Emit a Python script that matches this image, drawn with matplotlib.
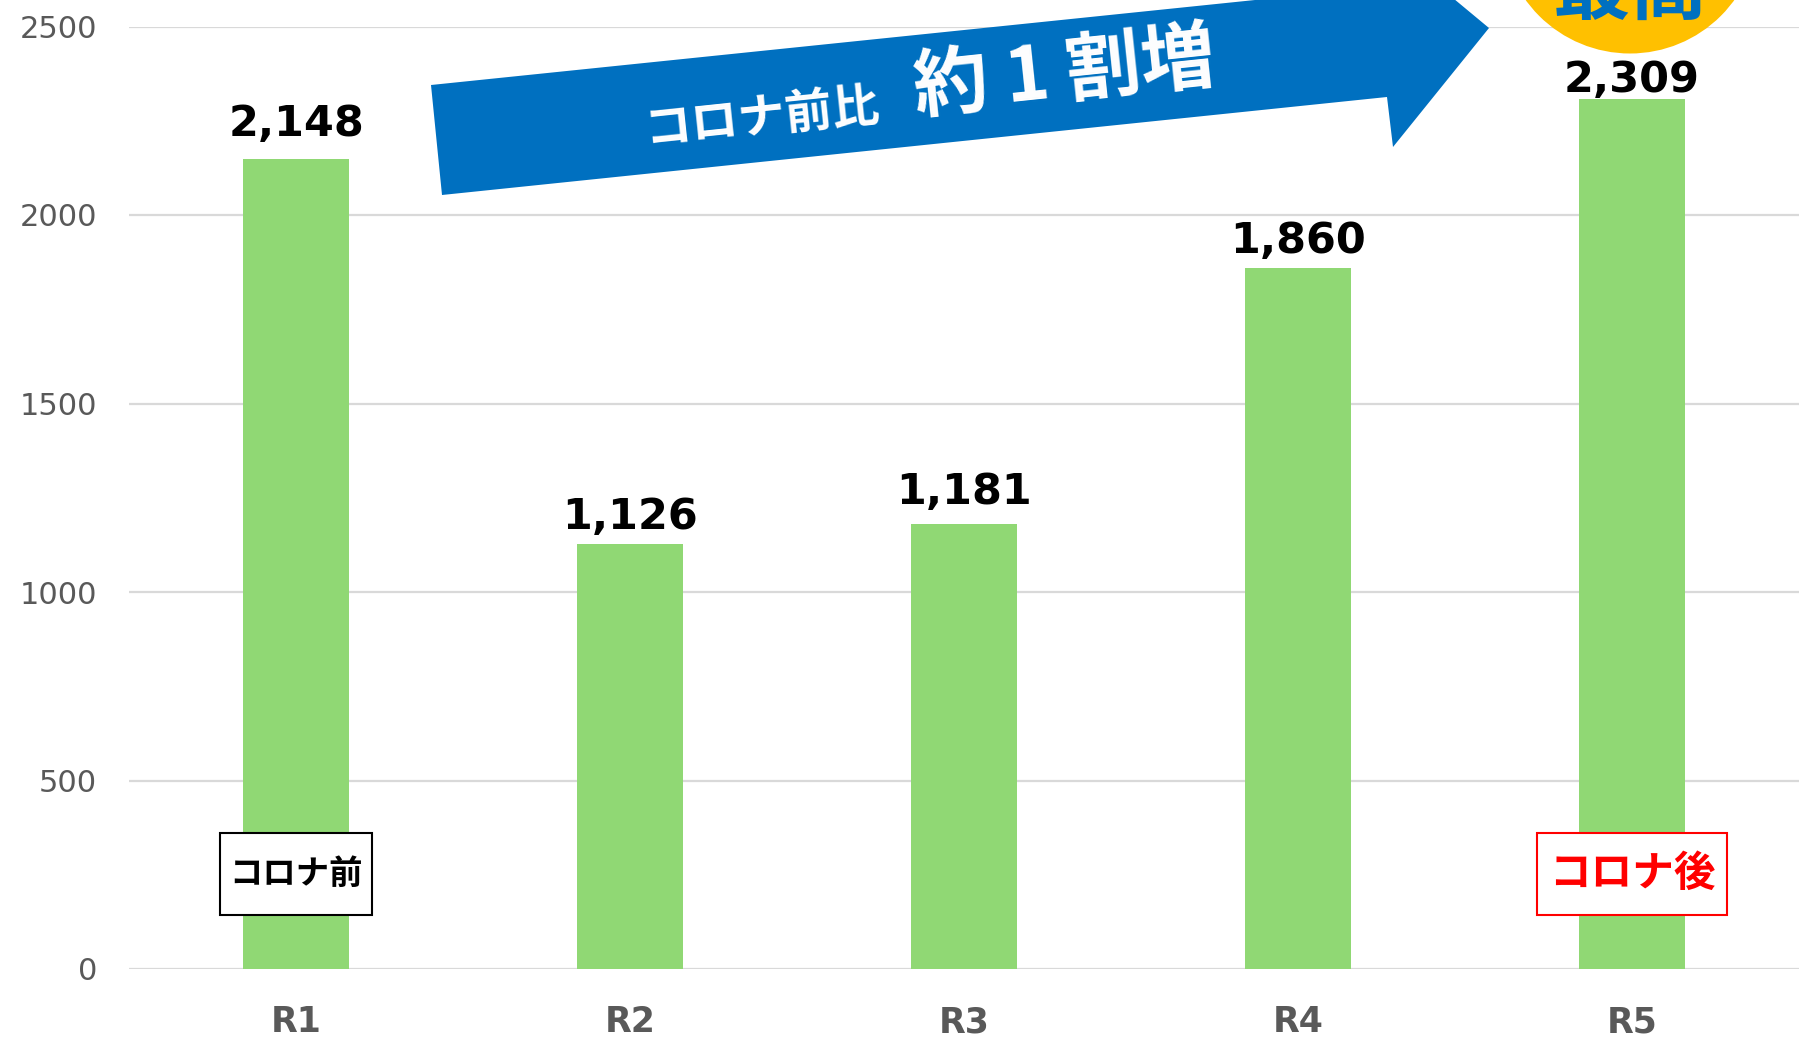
import numpy as np
import matplotlib
matplotlib.use("Agg")
import matplotlib.pyplot as plt
from matplotlib.patches import Polygon, Circle, Rectangle

plt.rcParams['font.family'] = ['DejaVu Sans', 'Noto Sans CJK JP']

# data
years = ["R1", "R2", "R3", "R4", "R5"]
values = [2148, 1126, 1181, 1860, 2309]
y_ticks = [0, 500, 1000, 1500, 2000, 2500]

# label gap above each bar (points), placed by hand in the original
label_gaps = [16.5, 11, 14.5, 11, 4.5]

BAR_COLOR = "#90D874"
GRID_COLOR = "#D9D9D9"
TICK_COLOR = "#595959"
BLUE = "#0070C0"
GOLD = "#FFC000"
RED = "#FF0000"

W, H = 1806, 1045
fig = plt.figure(figsize=(W / 100, H / 100), dpi=100)
ax = fig.add_axes([129 / W, 1 - 969 / H, (1799 - 129) / W, (969 - 26.5) / H])

x = np.arange(len(years))
bars = ax.bar(x, values, width=0.315, color=BAR_COLOR, zorder=2)
for xi, v, g in zip(x, values, label_gaps):
    ax.annotate(f"{v:,}", (xi, v), xytext=(0, g), textcoords="offset points",
                ha="center", va="baseline", fontsize=31, fontweight="bold",
                color="black", zorder=4)

ax.set_xlim(-0.5, len(years) - 0.5)
ax.set_ylim(0, 2500)
ax.set_yticks(y_ticks)
ax.set_xticks(x)
ax.set_xticklabels(years, fontsize=25, fontweight="bold", color=TICK_COLOR)
ax.tick_params(axis="y", labelsize=22, labelcolor=TICK_COLOR, length=0, pad=23)
ax.tick_params(axis="x", length=0, pad=26)
ax.grid(axis="y", color=GRID_COLOR, linewidth=1.6, zorder=0)
ax.set_axisbelow(True)
for s in ax.spines.values():
    s.set_visible(False)

# before / after boxes (data coords)
ax.add_patch(Rectangle((0 - 0.228, 142), 0.456, 220, facecolor="white",
                       edgecolor="black", linewidth=1.5, zorder=3))
ax.text(0, 252, "コロナ前", ha="center", va="center", fontsize=24,
        fontweight="bold", color="black", family="Noto Sans CJK JP", zorder=4)
ax.add_patch(Rectangle((4 - 0.285, 142), 0.57, 220, facecolor="white",
                       edgecolor=RED, linewidth=1.5, zorder=3))
ax.text(4, 252, "コロナ後", ha="center", va="center", fontsize=30,
        fontweight="bold", color=RED, family="Noto Sans CJK JP", zorder=4)

# overlay in pixel coordinates for the arrow and badge
ov = fig.add_axes([0, 0, 1, 1], zorder=5)
ov.set_xlim(0, W)
ov.set_ylim(H, 0)
ov.axis("off")
ov.patch.set_alpha(0)

arrow_pts = [(431, 85), (442, 195), (1387, 97), (1393, 147),
             (1489, 28), (1377, -65), (1381, -13)]
ov.add_patch(Polygon(arrow_pts, closed=True, facecolor=BLUE, edgecolor="none"))
ov.text(762, 118, "コロナ前比", ha="center", va="center", rotation=6,
        rotation_mode="anchor", fontsize=34, fontweight="bold", color="white",
        family="Noto Sans CJK JP")
ov.text(1065, 74, "約 1 割増", ha="center", va="center", rotation=6,
        rotation_mode="anchor", fontsize=54, fontweight="bold", color="white",
        family="Noto Sans CJK JP")

ov.add_patch(Circle((1630, -75), 128.5, facecolor=GOLD, edgecolor="none"))
ov.text(1630, -10, "最高", ha="center", va="center", fontsize=56,
        fontweight="bold", color=BLUE, family="Noto Sans CJK JP")

fig.savefig("out.png", dpi=100, facecolor="white")
